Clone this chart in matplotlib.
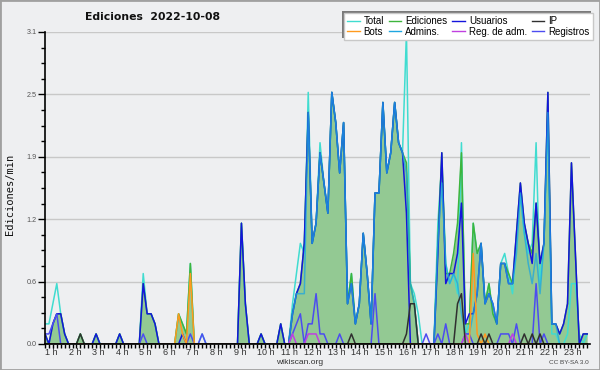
import matplotlib
matplotlib.use("Agg")
import matplotlib.pyplot as plt
from matplotlib.patches import Rectangle
from matplotlib.ticker import MultipleLocator

# ------------------------------------------------------------ data (edits/min, 10-minute samples, 1 h .. 24 h)
hours = [1 + k / 6 for k in range(139)]

total = [
    .2, .2, .4, .6, .3, .1, 0, 0, 0, .1, 0, 0,
    0, .1, 0, 0, 0, 0, 0, .1, 0, 0, 0, 0,
    0, .7, .3, .3, .2, 0, 0, 0, 0, 0, .3, .2,
    .1, .8, 0, 0, .1, 0, 0, 0, 0, 0, 0, 0,
    0, 0, 1.2, .4, 0, 0, 0, .1, 0, 0, 0, 0,
    .2, 0, 0, .4, .7, 1.0, .9, 2.5, 1.0, 1.2, 2.0, 1.6,
    1.3, 2.5, 2.2, 1.7, 2.2, .4, .7, .2, .4, 1.1, .7, .2,
    1.5, 1.5, 2.4, 1.7, 1.9, 2.4, 2.0, 1.9, 3.1, .6, .5, .3,
    0, 0, 0, 0, 1.2, 1.8, .8, .6, .7, .5, 2.0, .1,
    .2, 1.2, .9, 1.0, .4, .6, .3, .2, .8, .9, .7, .5,
    1.0, 1.5, 1.1, .9, 1.0, 2.0, .6, 1.0, 2.3, .1, .1, 0,
    0, .1, .6, .6, .1, 0, .1]

ediciones = [
    .1, 0, .2, .3, .3, .1, 0, 0, 0, .1, 0, 0,
    0, .1, 0, 0, 0, 0, 0, .1, 0, 0, 0, 0,
    0, .6, .3, .3, .2, 0, 0, 0, 0, 0, .3, .2,
    .1, .8, 0, 0, 0, 0, 0, 0, 0, 0, 0, 0,
    0, 0, 1.2, .4, 0, 0, 0, .1, 0, 0, 0, 0,
    .2, 0, 0, .3, .5, .6, 1.0, 2.3, 1.0, 1.2, 1.9, 1.6,
    1.3, 2.5, 2.2, 1.7, 2.2, .4, .7, .2, .4, 1.1, .7, .2,
    1.5, 1.5, 2.4, 1.7, 1.9, 2.4, 2.0, 1.9, 1.8, .6, .4, 0,
    0, 0, 0, 0, 1.0, 1.9, .7, .7, .9, 1.2, 1.9, .2,
    .2, 1.2, .9, 1.0, .4, .6, .3, .2, .8, .8, .7, .6,
    1.1, 1.6, 1.2, 1.0, .9, 1.4, .8, 1.0, 2.5, .2, .2, .1,
    .2, .4, 1.8, .9, 0, .1, .1]

usuarios = [
    .1, 0, .2, .3, .3, .1, 0, 0, 0, 0, 0, 0,
    0, .1, 0, 0, 0, 0, 0, .1, 0, 0, 0, 0,
    0, .6, .3, .3, .2, 0, 0, 0, 0, 0, 0, .1,
    0, 0, 0, 0, 0, 0, 0, 0, 0, 0, 0, 0,
    0, 0, 1.2, .4, 0, 0, 0, .1, 0, 0, 0, 0,
    .2, 0, 0, .3, .5, .6, 1.0, 2.3, 1.0, 1.2, 1.9, 1.6,
    1.3, 2.5, 2.2, 1.7, 2.2, .4, .6, .2, .4, 1.1, .7, .2,
    1.5, 1.5, 2.4, 1.7, 1.9, 2.4, 2.0, 1.9, 1.3, 0, 0, 0,
    0, 0, 0, 0, .9, 1.9, .6, .7, .7, .9, 1.4, .2,
    .3, .3, .5, 1.0, .4, .5, .4, .2, .8, .8, .6, .6,
    1.1, 1.6, 1.2, 1.0, .8, 1.4, .8, 1.0, 2.5, .2, .2, .1,
    .2, .4, 1.8, .9, 0, .1, .1]

admins = [
    0, 0, 0, 0, 0, 0, 0, 0, 0, 0, 0, 0,
    0, 0, 0, 0, 0, 0, 0, 0, 0, 0, 0, 0,
    0, 0, 0, 0, 0, 0, 0, 0, 0, 0, 0, 0,
    0, 0, 0, 0, 0, 0, 0, 0, 0, 0, 0, 0,
    0, 0, 0, 0, 0, 0, 0, 0, 0, 0, 0, 0,
    0, 0, 0, .3, .5, .5, .5, 2.3, 1.0, 1.2, 1.9, 1.6,
    1.3, 2.5, 2.2, 1.7, 2.2, .4, .6, .2, .4, 1.1, .7, .2,
    1.5, 1.5, 2.4, 1.7, 1.9, 2.4, 2.0, 1.9, 1.7, .6, .4, 0,
    0, 0, 0, 0, 1.0, 1.6, .8, .6, .7, .6, .3, .1,
    .1, .3, .5, 1.0, .4, .5, .4, .2, .8, .8, .6, .6,
    .9, 1.5, 1.1, .8, .6, .9, .5, 1.0, 2.3, .2, .2, 0,
    0, 0, 0, 0, 0, 0, 0]

ip = [
    0, 0, 0, 0, 0, 0, 0, 0, 0, .1, 0, 0,
    0, 0, 0, 0, 0, 0, 0, 0, 0, 0, 0, 0,
    0, 0, 0, 0, 0, 0, 0, 0, 0, 0, 0, 0,
    0, 0, 0, 0, 0, 0, 0, 0, 0, 0, 0, 0,
    0, 0, 0, 0, 0, 0, 0, 0, 0, 0, 0, 0,
    0, 0, 0, 0, 0, 0, 0, 0, 0, 0, 0, 0,
    0, 0, 0, 0, 0, 0, .1, 0, 0, 0, 0, 0,
    0, 0, 0, 0, 0, 0, 0, 0, .1, .4, .4, 0,
    0, 0, 0, 0, 0, 0, 0, 0, 0, .4, .5, 0,
    0, 0, 0, .1, 0, .1, 0, 0, 0, 0, 0, 0,
    0, 0, .1, 0, .1, 0, .1, 0, 0, 0, 0, 0,
    0, 0, 0, 0, 0, 0, 0]

bots = [
    0, 0, 0, 0, 0, 0, 0, 0, 0, 0, 0, 0,
    0, 0, 0, 0, 0, 0, 0, 0, 0, 0, 0, 0,
    0, 0, 0, 0, 0, 0, 0, 0, 0, 0, .3, .1,
    0, .7, 0, 0, 0, 0, 0, 0, 0, 0, 0, 0,
    0, 0, 0, 0, 0, 0, 0, 0, 0, 0, 0, 0,
    0, 0, 0, 0, 0, 0, 0, 0, 0, 0, 0, 0,
    0, 0, 0, 0, 0, 0, 0, 0, 0, 0, 0, 0,
    0, 0, 0, 0, 0, 0, 0, 0, 0, 0, 0, 0,
    0, 0, 0, 0, 0, 0, 0, 0, 0, 0, 0, 0,
    0, .9, .1, 0, .1, 0, 0, 0, 0, 0, 0, 0,
    0, 0, 0, 0, 0, 0, 0, 0, 0, 0, 0, 0,
    0, 0, 0, 0, 0, 0, 0]

reg_adm = [
    0, 0, 0, 0, 0, 0, 0, 0, 0, 0, 0, 0,
    0, 0, 0, 0, 0, 0, 0, 0, 0, 0, 0, 0,
    0, 0, 0, 0, 0, 0, 0, 0, 0, 0, 0, 0,
    0, 0, 0, 0, 0, 0, 0, 0, 0, 0, 0, 0,
    0, 0, 0, 0, 0, 0, 0, 0, 0, 0, 0, 0,
    0, 0, 0, .1, 0, 0, 0, .1, .1, .1, 0, 0,
    0, 0, 0, 0, 0, 0, 0, 0, 0, 0, 0, 0,
    0, 0, 0, 0, 0, 0, 0, 0, 0, 0, 0, 0,
    0, 0, 0, 0, 0, 0, 0, 0, 0, 0, 0, .1,
    0, 0, 0, 0, 0, 0, 0, 0, 0, 0, 0, .1,
    0, 0, 0, 0, 0, 0, 0, 0, 0, 0, 0, 0,
    0, 0, 0, 0, 0, 0, 0]

registros = [
    .1, .1, .2, .3, 0, 0, 0, 0, 0, 0, 0, 0,
    0, 0, 0, 0, 0, 0, 0, 0, 0, 0, 0, 0,
    0, .1, 0, 0, 0, 0, 0, 0, 0, 0, 0, 0,
    0, .1, 0, 0, .1, 0, 0, 0, 0, 0, 0, 0,
    0, 0, 0, 0, 0, 0, 0, 0, 0, 0, 0, 0,
    0, 0, 0, .1, .2, .3, 0, .2, .2, .5, .1, .1,
    0, 0, 0, .1, 0, 0, 0, 0, 0, 0, 0, 0,
    .5, 0, 0, 0, 0, 0, 0, 0, 0, 0, 0, 0,
    0, .1, 0, 0, .1, 0, .2, 0, 0, 0, 0, .1,
    .1, 0, 0, 0, 0, 0, 0, 0, .1, .1, .1, 0,
    .2, 0, 0, 0, 0, .6, 0, .1, 0, 0, 0, 0,
    0, 0, 0, 0, 0, 0, 0]

y_ticks = [0, 0.62, 1.24, 1.86, 2.48, 3.1]
y_labels = ["0.0", "0.6", "1.2", "1.9", "2.5", "3.1"]
hour_ticks = list(range(1, 25))
hour_labels = [f"{h} h" for h in range(1, 24)] + [""]

BG = "#EEEFF1"
SANS = ["Liberation Sans", "DejaVu Sans"]

# ------------------------------------------------------------ figure
fig = plt.figure(figsize=(6, 3.7), dpi=100, facecolor=BG)
ax = fig.add_axes([45 / 600, 26 / 370, 545 / 600, 312 / 370], facecolor=BG)

ax.fill_between(hours, ediciones, 0, color="#93C993", lw=0, zorder=1)
lw = 1.1
h_total, = ax.plot(hours, total, color="#40DCD0", lw=lw, zorder=2, label="Total")
h_edic, = ax.plot(hours, ediciones, color="#3DB53D", lw=lw, zorder=2.1, label="Ediciones")
h_usu, = ax.plot(hours, usuarios, color="#1414DC", lw=lw, zorder=2.2, label="Usuarios")
h_adm, = ax.plot(hours, admins, color="#1EA6E0", lw=lw, alpha=0.75, zorder=2.3, label="Admins.")
h_reg, = ax.plot(hours, registros, color="#4C4CF0", lw=lw, zorder=2.35, label="Registros")
h_radm, = ax.plot(hours, reg_adm, color="#C040E0", lw=lw, zorder=2.36, label="Reg. de adm.")
h_bots, = ax.plot(hours, bots, color="#FF9A1E", lw=lw, zorder=2.37, label="Bots")
h_ip, = ax.plot(hours, ip, color="#303030", lw=lw, zorder=2.38, label="IP")

ax.set_xlim(1, 24.12)
ax.set_ylim(0, 3.1)
ax.set_yticks(y_ticks)
ax.set_yticklabels(y_labels)
ax.yaxis.set_minor_locator(MultipleLocator(0.155))
ax.set_xticks(hour_ticks)
ax.set_xticklabels(hour_labels)
ax.xaxis.set_minor_locator(MultipleLocator(1 / 6))
for lab in ax.get_xticklabels():
    lab.set_horizontalalignment("left")
    lab.set_fontfamily(SANS)
for lab in ax.get_yticklabels():
    lab.set_fontfamily(SANS)

ax.tick_params(axis="x", which="major", length=3, width=1, pad=0, labelsize=6.5, labelcolor="#333333")
ax.tick_params(axis="x", which="minor", length=3, width=1)
ax.tick_params(axis="y", which="major", length=5, width=1, pad=1, labelsize=5.2, labelcolor="#555555")
ax.tick_params(axis="y", which="minor", length=3, width=1)
ax.grid(axis="y", which="major", color="#C8C8C8", lw=1, zorder=0)
ax.set_axisbelow(True)
for s in ("top", "right"):
    ax.spines[s].set_visible(False)
for s in ("left", "bottom"):
    ax.spines[s].set_linewidth(1.2)
    ax.spines[s].set_zorder(3)

# ------------------------------------------------------------ texts
fig.text(85 / 600, 1 - 17 / 370, "Ediciones  2022-10-08", fontsize=7.8, fontweight="bold",
         family="DejaVu Sans", va="center", ha="left", color="#111111")
fig.text(10 / 600, 1 - 194 / 370, "Ediciones/min", rotation=90, fontsize=7.5,
         family="DejaVu Sans Mono", va="center", ha="center", color="#111111")
fig.text(0.5, 1 - 362.5 / 370, "wikiscan.org", fontsize=6.1, family=SANS,
         ha="center", va="center", color="#333333")
fig.text(589 / 600, 1 - 363 / 370, "CC BY-SA 3.0", fontsize=4.6, family=SANS,
         ha="right", va="center", color="#444444")

# legend (column-major order gives the two reference rows)
handles = [h_total, h_bots, h_edic, h_adm, h_usu, h_radm, h_ip, h_reg]
leg = fig.legend(handles=handles, ncol=4, loc="upper right",
                 bbox_to_anchor=(593 / 600, 1 - 13 / 370), borderaxespad=0,
                 prop={"family": SANS, "size": 7}, frameon=True, fancybox=False,
                 framealpha=1, facecolor="white", edgecolor="#C8C8C8",
                 handlelength=1.3, handletextpad=0.4, columnspacing=0.5,
                 labelspacing=0.05, borderpad=0.35)
leg.get_frame().set_linewidth(1)
for line in leg.get_lines():
    line.set_alpha(1)
    line.set_linewidth(1)

fig.canvas.draw()
bb = leg.get_frame().get_window_extent()
inv = fig.transFigure.inverted()
(x0, y0) = inv.transform((bb.x0 - 2, bb.y0 + 2))
(x1, y1) = inv.transform((bb.x1 - 2, bb.y1 + 2))
fig.add_artist(Rectangle((x0, y0), x1 - x0, y1 - y0, transform=fig.transFigure,
                         facecolor="#7A7A7A", edgecolor="none", zorder=4))

fig.add_artist(Rectangle((0, 0), 1, 1, transform=fig.transFigure, fill=False,
                         edgecolor="#A0A0A0", lw=2, zorder=10))

fig.savefig("out.png", dpi=100, facecolor=BG)
